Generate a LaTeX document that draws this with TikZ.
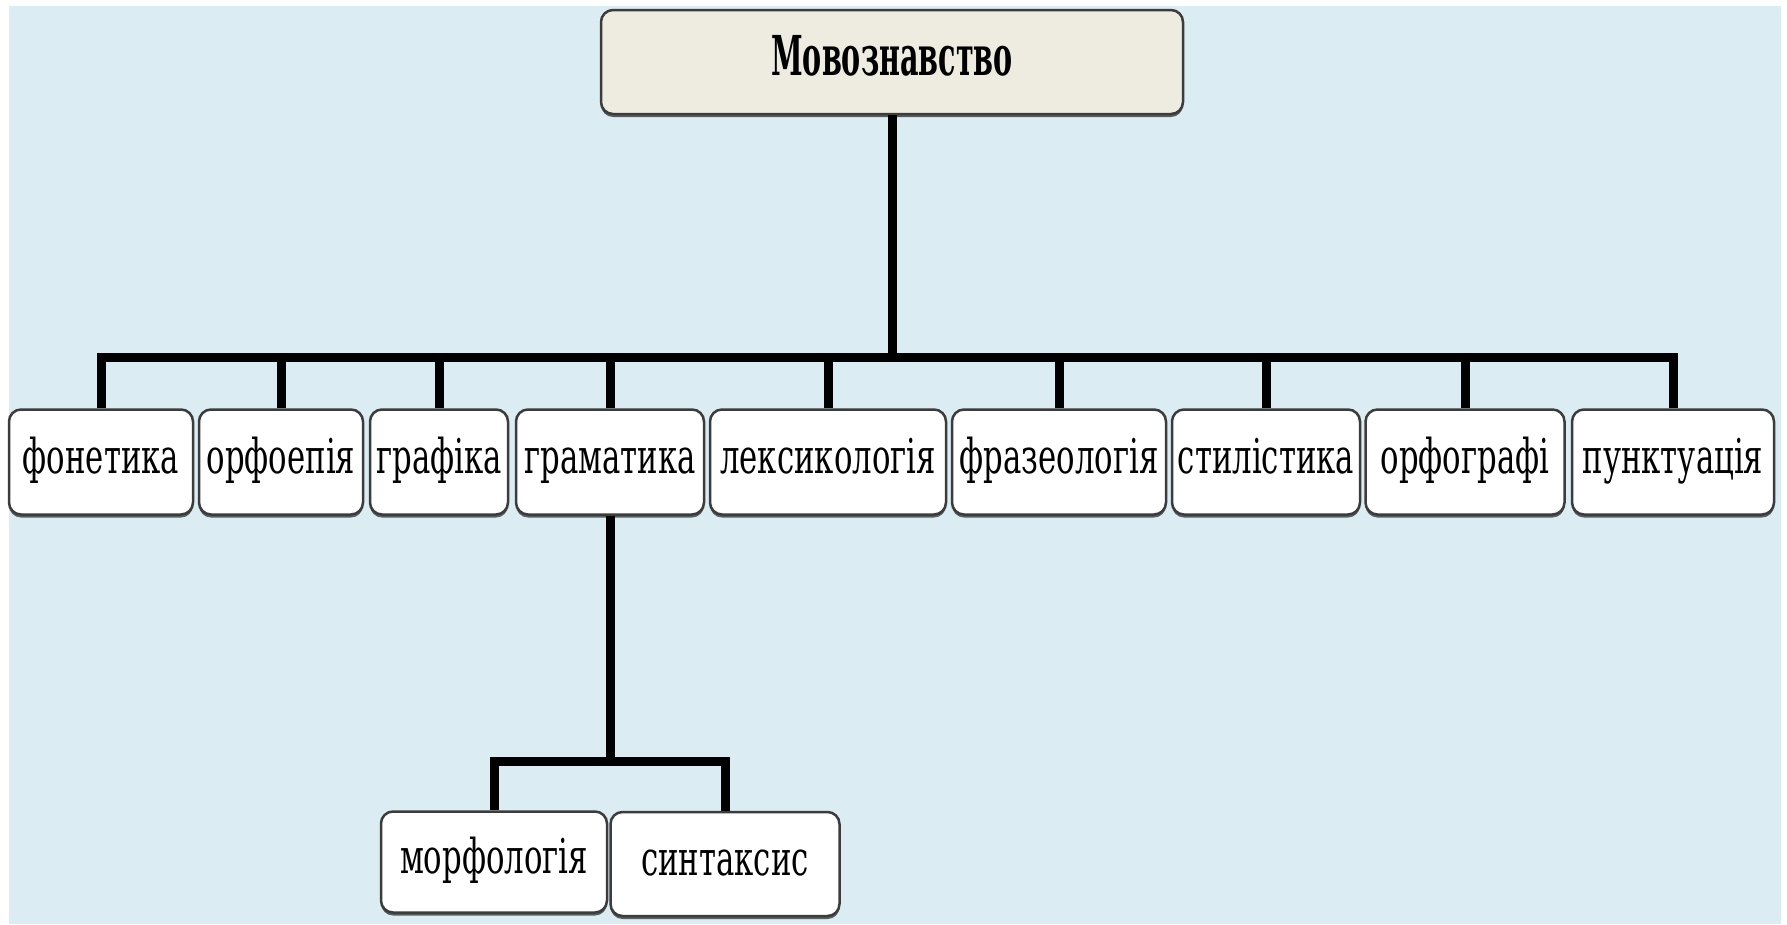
\documentclass[tikz,border=0pt]{standalone}
\usepackage{fontspec}
\setmainfont[FakeStretch=0.64]{DejaVu Serif}
\newfontfamily\titlefont[FakeStretch=0.52]{DejaVu Serif}
\usetikzlibrary{shadows}
\definecolor{bgblue}{RGB}{219,237,243}
\definecolor{titlefill}{RGB}{238,235,224}
\definecolor{boxline}{RGB}{60,60,60}
\tikzset{box/.style = {draw=boxline, line width=2.5pt, rounded corners=12pt, fill=white,
                       drop shadow={shadow xshift=0pt, shadow yshift=-3pt,
                                    fill=black, opacity=0.6},
                       inner sep=0pt, text height=38pt, text depth=15pt,
                       font=\fontsize{48}{50}\selectfont}}
\tikzset{titlebox/.style = {box, fill=titlefill, text height=38pt, text depth=12pt,
                            font=\titlefont\bfseries\fontsize{55}{58}\selectfont}}
\tikzset{conn/.style = {line width=9pt}}

\begin{document}
\begin{tikzpicture}[x=1pt, y=-1pt]

  \useasboundingbox (0,0) rectangle (1787,924);
  \fill[white] (0,0) rectangle (1787,924);
  \fill[bgblue] (9,6) rectangle (1781,924);

  \node[titlebox, minimum width=582pt, minimum height=104pt] (mov) at (892,62) {Мовознавство};

  \def\ry{462}
  \node[box, minimum width=184pt, minimum height=105pt] (fon)  at (101,\ry)  {фонетика};
  \node[box, minimum width=164pt, minimum height=105pt] (orfe) at (281,\ry)  {орфоепія};
  \node[box, minimum width=138pt, minimum height=105pt] (graf) at (439,\ry)  {графіка};
  \node[box, minimum width=188pt, minimum height=105pt] (gram) at (610,\ry)  {граматика};
  \node[box, minimum width=236pt, minimum height=105pt] (lex)  at (828,\ry)  {лексикологія};
  \node[box, minimum width=214pt, minimum height=105pt] (fraz) at (1059,\ry) {фразеологія};
  \node[box, minimum width=188pt, minimum height=105pt] (stil) at (1266,\ry) {стилістика};
  \node[box, minimum width=199pt, minimum height=105pt] (orfg) at (1465,\ry) {орфографі};
  \node[box, minimum width=202pt, minimum height=105pt] (punk) at (1673,\ry) {пунктуація};

  \node[box, minimum width=226pt, minimum height=101pt] (morf) at (494,862)  {морфологія};
  \node[box, minimum width=229pt, minimum height=104pt] (sint) at (725,864)  {синтаксис};

  \coordinate (hub) at (892,357);
  \foreach \n in {fon,orfe,graf,gram,lex,fraz,stil,orfg,punk}
    \draw[conn] (mov.south) -- (hub) -| (\n.north);

  \coordinate (hub2) at (610,761);
  \foreach \n in {morf,sint}
    \draw[conn] (gram.south) -- (hub2) -| (\n.north);

\end{tikzpicture}
\end{document}
